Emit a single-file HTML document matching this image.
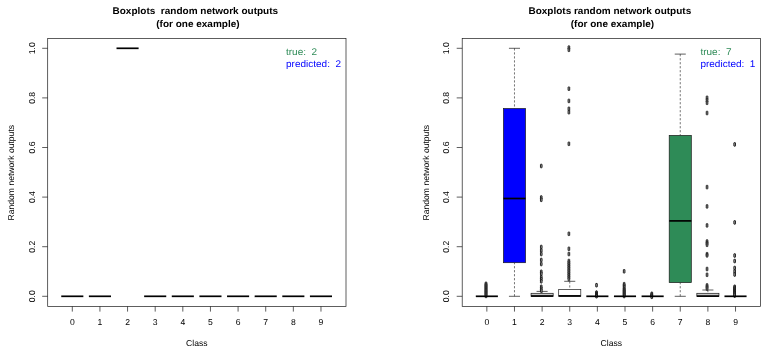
<!DOCTYPE html>
<html><head><meta charset="utf-8"><title>Boxplots random network outputs</title>
<style>
html,body{margin:0;padding:0;background:#fff}
svg{display:block}
text{font-family:"Liberation Sans",Arial,Helvetica,sans-serif;fill:#000;text-rendering:geometricPrecision}
.t{font-size:10px;font-weight:bold;text-anchor:middle}
.a{font-size:8.6px;text-anchor:middle}
.l{font-size:10px}
.ln{stroke:#1a1a1a;stroke-width:0.7;fill:none}
.md{stroke:#000;stroke-width:1.7;fill:none}
.wh{stroke:#1a1a1a;stroke-width:.6;stroke-dasharray:2.2 1.8;fill:none}
.o{fill:#aaa;stroke:#111;stroke-width:.9}
</style></head>
<body>
<svg width="767" height="352" viewBox="0 0 767 352">
<rect width="767" height="352" fill="#fff"/>
<g>
<text class="t" transform="translate(195.30 14.1) scale(1 .97)" xml:space="preserve">Boxplots  random network outputs</text>
<text class="t" transform="translate(197.90 26.6) scale(1 .97)">(for one example)</text>
<rect class="ln" x="47.70" y="38.40" width="298.30" height="268.00"/>
<line class="ln" x1="42.20" y1="296.30" x2="47.70" y2="296.30"/>
<text class="a" transform="translate(34.80 296.30) rotate(-90)">0.0</text>
<line class="ln" x1="42.20" y1="246.70" x2="47.70" y2="246.70"/>
<text class="a" transform="translate(34.80 246.70) rotate(-90)">0.2</text>
<line class="ln" x1="42.20" y1="197.10" x2="47.70" y2="197.10"/>
<text class="a" transform="translate(34.80 197.10) rotate(-90)">0.4</text>
<line class="ln" x1="42.20" y1="147.50" x2="47.70" y2="147.50"/>
<text class="a" transform="translate(34.80 147.50) rotate(-90)">0.6</text>
<line class="ln" x1="42.20" y1="97.90" x2="47.70" y2="97.90"/>
<text class="a" transform="translate(34.80 97.90) rotate(-90)">0.8</text>
<line class="ln" x1="42.20" y1="48.30" x2="47.70" y2="48.30"/>
<text class="a" transform="translate(34.80 48.30) rotate(-90)">1.0</text>
<text class="a" transform="translate(14.10 172.70) rotate(-90)">Random network outputs</text>
<line class="ln" x1="72.30" y1="306.40" x2="72.30" y2="311.60"/>
<text class="a" x="72.30" y="324.6">0</text>
<line class="ln" x1="99.93" y1="306.40" x2="99.93" y2="311.60"/>
<text class="a" x="99.93" y="324.6">1</text>
<line class="ln" x1="127.56" y1="306.40" x2="127.56" y2="311.60"/>
<text class="a" x="127.56" y="324.6">2</text>
<line class="ln" x1="155.19" y1="306.40" x2="155.19" y2="311.60"/>
<text class="a" x="155.19" y="324.6">3</text>
<line class="ln" x1="182.82" y1="306.40" x2="182.82" y2="311.60"/>
<text class="a" x="182.82" y="324.6">4</text>
<line class="ln" x1="210.45" y1="306.40" x2="210.45" y2="311.60"/>
<text class="a" x="210.45" y="324.6">5</text>
<line class="ln" x1="238.08" y1="306.40" x2="238.08" y2="311.60"/>
<text class="a" x="238.08" y="324.6">6</text>
<line class="ln" x1="265.71" y1="306.40" x2="265.71" y2="311.60"/>
<text class="a" x="265.71" y="324.6">7</text>
<line class="ln" x1="293.34" y1="306.40" x2="293.34" y2="311.60"/>
<text class="a" x="293.34" y="324.6">8</text>
<line class="ln" x1="320.97" y1="306.40" x2="320.97" y2="311.60"/>
<text class="a" x="320.97" y="324.6">9</text>
<text class="a" x="196.85" y="345.5">Class</text>
<text class="l" transform="translate(286.00 54.5) scale(1 .97)" style="fill:#2e8b57" xml:space="preserve">true:  2</text>
<text class="l" transform="translate(286.00 66.75) scale(1 .97)" style="fill:#0000ff" xml:space="preserve">predicted:  2</text>
<line class="md" x1="61.25" y1="296.30" x2="83.35" y2="296.30"/>
<line class="md" x1="88.88" y1="296.30" x2="110.98" y2="296.30"/>
<line class="md" x1="116.51" y1="48.30" x2="138.61" y2="48.30"/>
<line class="md" x1="144.14" y1="296.30" x2="166.24" y2="296.30"/>
<line class="md" x1="171.77" y1="296.30" x2="193.87" y2="296.30"/>
<line class="md" x1="199.40" y1="296.30" x2="221.50" y2="296.30"/>
<line class="md" x1="227.03" y1="296.30" x2="249.13" y2="296.30"/>
<line class="md" x1="254.66" y1="296.30" x2="276.76" y2="296.30"/>
<line class="md" x1="282.29" y1="296.30" x2="304.39" y2="296.30"/>
<line class="md" x1="309.92" y1="296.30" x2="332.02" y2="296.30"/>
</g>
<g>
<text class="t" transform="translate(609.80 14.1) scale(1 .97)" xml:space="preserve">Boxplots random network outputs</text>
<text class="t" transform="translate(612.40 26.6) scale(1 .97)">(for one example)</text>
<rect class="ln" x="462.20" y="38.40" width="298.30" height="268.00"/>
<line class="ln" x1="456.70" y1="296.30" x2="462.20" y2="296.30"/>
<text class="a" transform="translate(449.30 296.30) rotate(-90)">0.0</text>
<line class="ln" x1="456.70" y1="246.70" x2="462.20" y2="246.70"/>
<text class="a" transform="translate(449.30 246.70) rotate(-90)">0.2</text>
<line class="ln" x1="456.70" y1="197.10" x2="462.20" y2="197.10"/>
<text class="a" transform="translate(449.30 197.10) rotate(-90)">0.4</text>
<line class="ln" x1="456.70" y1="147.50" x2="462.20" y2="147.50"/>
<text class="a" transform="translate(449.30 147.50) rotate(-90)">0.6</text>
<line class="ln" x1="456.70" y1="97.90" x2="462.20" y2="97.90"/>
<text class="a" transform="translate(449.30 97.90) rotate(-90)">0.8</text>
<line class="ln" x1="456.70" y1="48.30" x2="462.20" y2="48.30"/>
<text class="a" transform="translate(449.30 48.30) rotate(-90)">1.0</text>
<text class="a" transform="translate(428.60 172.70) rotate(-90)">Random network outputs</text>
<line class="ln" x1="486.85" y1="306.40" x2="486.85" y2="311.60"/>
<text class="a" x="486.85" y="324.6">0</text>
<line class="ln" x1="514.48" y1="306.40" x2="514.48" y2="311.60"/>
<text class="a" x="514.48" y="324.6">1</text>
<line class="ln" x1="542.11" y1="306.40" x2="542.11" y2="311.60"/>
<text class="a" x="542.11" y="324.6">2</text>
<line class="ln" x1="569.74" y1="306.40" x2="569.74" y2="311.60"/>
<text class="a" x="569.74" y="324.6">3</text>
<line class="ln" x1="597.37" y1="306.40" x2="597.37" y2="311.60"/>
<text class="a" x="597.37" y="324.6">4</text>
<line class="ln" x1="625.00" y1="306.40" x2="625.00" y2="311.60"/>
<text class="a" x="625.00" y="324.6">5</text>
<line class="ln" x1="652.63" y1="306.40" x2="652.63" y2="311.60"/>
<text class="a" x="652.63" y="324.6">6</text>
<line class="ln" x1="680.26" y1="306.40" x2="680.26" y2="311.60"/>
<text class="a" x="680.26" y="324.6">7</text>
<line class="ln" x1="707.89" y1="306.40" x2="707.89" y2="311.60"/>
<text class="a" x="707.89" y="324.6">8</text>
<line class="ln" x1="735.52" y1="306.40" x2="735.52" y2="311.60"/>
<text class="a" x="735.52" y="324.6">9</text>
<text class="a" x="611.35" y="345.5">Class</text>
<text class="l" transform="translate(700.40 54.5) scale(1 .97)" style="fill:#2e8b57" xml:space="preserve">true:  7</text>
<text class="l" transform="translate(700.40 66.75) scale(1 .97)" style="fill:#0000ff" xml:space="preserve">predicted:  1</text>
<rect class="o" x="485.20" y="282.05" width="1.6" height="3.5" rx=".3"/>
<rect class="o" x="485.20" y="283.15" width="1.6" height="3.5" rx=".3"/>
<rect class="o" x="485.20" y="284.25" width="1.6" height="3.5" rx=".3"/>
<rect class="o" x="485.20" y="285.35" width="1.6" height="3.5" rx=".3"/>
<rect class="o" x="485.20" y="286.45" width="1.6" height="3.5" rx=".3"/>
<rect class="o" x="485.20" y="287.55" width="1.6" height="3.5" rx=".3"/>
<rect class="o" x="485.20" y="288.65" width="1.6" height="3.5" rx=".3"/>
<rect class="o" x="485.20" y="289.75" width="1.6" height="3.5" rx=".3"/>
<rect class="o" x="485.20" y="290.85" width="1.6" height="3.5" rx=".3"/>
<rect class="o" x="485.20" y="291.95" width="1.6" height="3.5" rx=".3"/>
<rect class="o" x="485.20" y="293.05" width="1.6" height="3.5" rx=".3"/>
<rect class="o" x="485.20" y="294.15" width="1.6" height="3.5" rx=".3"/>
<line class="md" x1="475.80" y1="296.30" x2="497.90" y2="296.30"/>
<line class="wh" x1="514.48" y1="48.30" x2="514.48" y2="108.50"/>
<line class="ln" x1="508.95" y1="48.30" x2="520.01" y2="48.30"/>
<line class="wh" x1="514.48" y1="296.30" x2="514.48" y2="262.70"/>
<line class="ln" x1="508.95" y1="296.30" x2="520.01" y2="296.30"/>
<rect class="ln" style="fill:#0000ff" x="503.43" y="108.50" width="22.10" height="154.20"/>
<line class="md" x1="503.43" y1="198.50" x2="525.53" y2="198.50"/>
<line class="wh" x1="542.11" y1="291.40" x2="542.11" y2="293.30"/>
<line class="ln" x1="536.58" y1="291.40" x2="547.64" y2="291.40"/>
<rect class="ln" style="fill:#c8c8c8" x="531.06" y="293.30" width="22.10" height="3.00"/>
<rect class="o" x="540.46" y="164.25" width="1.6" height="3.5" rx=".3"/>
<rect class="o" x="540.46" y="195.75" width="1.6" height="3.5" rx=".3"/>
<rect class="o" x="540.46" y="198.05" width="1.6" height="3.5" rx=".3"/>
<rect class="o" x="540.46" y="245.25" width="1.6" height="3.5" rx=".3"/>
<rect class="o" x="540.46" y="248.75" width="1.6" height="3.5" rx=".3"/>
<rect class="o" x="540.46" y="252.25" width="1.6" height="3.5" rx=".3"/>
<rect class="o" x="540.46" y="258.25" width="1.6" height="3.5" rx=".3"/>
<rect class="o" x="540.46" y="262.25" width="1.6" height="3.5" rx=".3"/>
<rect class="o" x="540.46" y="270.05" width="1.6" height="3.5" rx=".3"/>
<rect class="o" x="540.46" y="272.05" width="1.6" height="3.5" rx=".3"/>
<rect class="o" x="540.46" y="275.45" width="1.6" height="3.5" rx=".3"/>
<rect class="o" x="540.46" y="277.45" width="1.6" height="3.5" rx=".3"/>
<rect class="o" x="540.46" y="279.55" width="1.6" height="3.5" rx=".3"/>
<rect class="o" x="540.46" y="285.05" width="1.6" height="3.5" rx=".3"/>
<rect class="o" x="540.46" y="287.05" width="1.6" height="3.5" rx=".3"/>
<rect class="o" x="540.46" y="288.85" width="1.6" height="3.5" rx=".3"/>
<line class="md" x1="531.06" y1="296.00" x2="553.16" y2="296.00"/>
<line class="wh" x1="569.74" y1="281.30" x2="569.74" y2="289.50"/>
<line class="ln" x1="564.21" y1="281.30" x2="575.27" y2="281.30"/>
<rect class="ln" style="fill:#fff" x="558.69" y="289.50" width="22.10" height="6.80"/>
<rect class="o" x="568.09" y="45.85" width="1.6" height="3.5" rx=".3"/>
<rect class="o" x="568.09" y="48.05" width="1.6" height="3.5" rx=".3"/>
<rect class="o" x="568.09" y="86.95" width="1.6" height="3.5" rx=".3"/>
<rect class="o" x="568.09" y="99.15" width="1.6" height="3.5" rx=".3"/>
<rect class="o" x="568.09" y="107.05" width="1.6" height="3.5" rx=".3"/>
<rect class="o" x="568.09" y="110.45" width="1.6" height="3.5" rx=".3"/>
<rect class="o" x="568.09" y="142.05" width="1.6" height="3.5" rx=".3"/>
<rect class="o" x="568.09" y="232.05" width="1.6" height="3.5" rx=".3"/>
<rect class="o" x="568.09" y="247.05" width="1.6" height="3.5" rx=".3"/>
<rect class="o" x="568.09" y="252.25" width="1.6" height="3.5" rx=".3"/>
<rect class="o" x="568.09" y="259.25" width="1.6" height="3.5" rx=".3"/>
<rect class="o" x="568.09" y="261.05" width="1.6" height="3.5" rx=".3"/>
<rect class="o" x="568.09" y="262.85" width="1.6" height="3.5" rx=".3"/>
<rect class="o" x="568.09" y="264.65" width="1.6" height="3.5" rx=".3"/>
<rect class="o" x="568.09" y="266.45" width="1.6" height="3.5" rx=".3"/>
<rect class="o" x="568.09" y="268.25" width="1.6" height="3.5" rx=".3"/>
<rect class="o" x="568.09" y="270.05" width="1.6" height="3.5" rx=".3"/>
<rect class="o" x="568.09" y="271.85" width="1.6" height="3.5" rx=".3"/>
<rect class="o" x="568.09" y="273.65" width="1.6" height="3.5" rx=".3"/>
<rect class="o" x="568.09" y="275.45" width="1.6" height="3.5" rx=".3"/>
<rect class="o" x="568.09" y="277.25" width="1.6" height="3.5" rx=".3"/>
<line class="md" x1="558.69" y1="295.90" x2="580.79" y2="295.90"/>
<rect class="o" x="595.72" y="283.45" width="1.6" height="3.5" rx=".3"/>
<rect class="o" x="595.72" y="290.85" width="1.6" height="3.5" rx=".3"/>
<rect class="o" x="595.72" y="291.75" width="1.6" height="3.5" rx=".3"/>
<rect class="o" x="595.72" y="292.65" width="1.6" height="3.5" rx=".3"/>
<rect class="o" x="595.72" y="293.55" width="1.6" height="3.5" rx=".3"/>
<rect class="o" x="595.72" y="294.45" width="1.6" height="3.5" rx=".3"/>
<line class="md" x1="586.32" y1="296.30" x2="608.42" y2="296.30"/>
<rect class="o" x="623.35" y="269.55" width="1.6" height="3.5" rx=".3"/>
<rect class="o" x="623.35" y="282.45" width="1.6" height="3.5" rx=".3"/>
<rect class="o" x="623.35" y="283.95" width="1.6" height="3.5" rx=".3"/>
<rect class="o" x="623.35" y="285.45" width="1.6" height="3.5" rx=".3"/>
<rect class="o" x="623.35" y="287.25" width="1.6" height="3.5" rx=".3"/>
<rect class="o" x="623.35" y="288.25" width="1.6" height="3.5" rx=".3"/>
<rect class="o" x="623.35" y="289.25" width="1.6" height="3.5" rx=".3"/>
<rect class="o" x="623.35" y="290.25" width="1.6" height="3.5" rx=".3"/>
<rect class="o" x="623.35" y="291.25" width="1.6" height="3.5" rx=".3"/>
<rect class="o" x="623.35" y="292.25" width="1.6" height="3.5" rx=".3"/>
<rect class="o" x="623.35" y="293.25" width="1.6" height="3.5" rx=".3"/>
<rect class="o" x="623.35" y="294.25" width="1.6" height="3.5" rx=".3"/>
<line class="md" x1="613.95" y1="296.30" x2="636.05" y2="296.30"/>
<rect class="o" x="650.98" y="292.05" width="1.6" height="3.5" rx=".3"/>
<rect class="o" x="650.98" y="293.05" width="1.6" height="3.5" rx=".3"/>
<rect class="o" x="650.98" y="294.05" width="1.6" height="3.5" rx=".3"/>
<rect class="o" x="650.98" y="295.05" width="1.6" height="3.5" rx=".3"/>
<line class="md" x1="641.58" y1="296.30" x2="663.68" y2="296.30"/>
<line class="wh" x1="680.26" y1="54.10" x2="680.26" y2="135.40"/>
<line class="ln" x1="674.73" y1="54.10" x2="685.79" y2="54.10"/>
<line class="wh" x1="680.26" y1="296.30" x2="680.26" y2="282.60"/>
<line class="ln" x1="674.73" y1="296.30" x2="685.79" y2="296.30"/>
<rect class="ln" style="fill:#2e8b57" x="669.21" y="135.40" width="22.10" height="147.20"/>
<line class="md" x1="669.21" y1="220.90" x2="691.31" y2="220.90"/>
<line class="wh" x1="707.89" y1="290.00" x2="707.89" y2="293.30"/>
<line class="ln" x1="702.36" y1="290.00" x2="713.42" y2="290.00"/>
<rect class="ln" style="fill:#c8c8c8" x="696.84" y="293.30" width="22.10" height="3.00"/>
<rect class="o" x="706.24" y="96.05" width="1.6" height="3.5" rx=".3"/>
<rect class="o" x="706.24" y="98.55" width="1.6" height="3.5" rx=".3"/>
<rect class="o" x="706.24" y="101.05" width="1.6" height="3.5" rx=".3"/>
<rect class="o" x="706.24" y="111.25" width="1.6" height="3.5" rx=".3"/>
<rect class="o" x="706.24" y="185.35" width="1.6" height="3.5" rx=".3"/>
<rect class="o" x="706.24" y="204.65" width="1.6" height="3.5" rx=".3"/>
<rect class="o" x="706.24" y="223.65" width="1.6" height="3.5" rx=".3"/>
<rect class="o" x="706.24" y="239.75" width="1.6" height="3.5" rx=".3"/>
<rect class="o" x="706.24" y="241.45" width="1.6" height="3.5" rx=".3"/>
<rect class="o" x="706.24" y="243.05" width="1.6" height="3.5" rx=".3"/>
<rect class="o" x="706.24" y="252.45" width="1.6" height="3.5" rx=".3"/>
<rect class="o" x="706.24" y="253.65" width="1.6" height="3.5" rx=".3"/>
<rect class="o" x="706.24" y="267.25" width="1.6" height="3.5" rx=".3"/>
<rect class="o" x="706.24" y="273.05" width="1.6" height="3.5" rx=".3"/>
<rect class="o" x="706.24" y="283.65" width="1.6" height="3.5" rx=".3"/>
<rect class="o" x="706.24" y="285.25" width="1.6" height="3.5" rx=".3"/>
<rect class="o" x="706.24" y="286.85" width="1.6" height="3.5" rx=".3"/>
<line class="md" x1="696.84" y1="296.10" x2="718.94" y2="296.10"/>
<rect class="o" x="733.87" y="142.65" width="1.6" height="3.5" rx=".3"/>
<rect class="o" x="733.87" y="220.65" width="1.6" height="3.5" rx=".3"/>
<rect class="o" x="733.87" y="253.75" width="1.6" height="3.5" rx=".3"/>
<rect class="o" x="733.87" y="259.25" width="1.6" height="3.5" rx=".3"/>
<rect class="o" x="733.87" y="266.25" width="1.6" height="3.5" rx=".3"/>
<rect class="o" x="733.87" y="269.75" width="1.6" height="3.5" rx=".3"/>
<rect class="o" x="733.87" y="272.75" width="1.6" height="3.5" rx=".3"/>
<rect class="o" x="733.87" y="285.05" width="1.6" height="3.5" rx=".3"/>
<rect class="o" x="733.87" y="286.15" width="1.6" height="3.5" rx=".3"/>
<rect class="o" x="733.87" y="287.25" width="1.6" height="3.5" rx=".3"/>
<rect class="o" x="733.87" y="288.35" width="1.6" height="3.5" rx=".3"/>
<rect class="o" x="733.87" y="289.45" width="1.6" height="3.5" rx=".3"/>
<rect class="o" x="733.87" y="290.55" width="1.6" height="3.5" rx=".3"/>
<rect class="o" x="733.87" y="291.65" width="1.6" height="3.5" rx=".3"/>
<rect class="o" x="733.87" y="292.75" width="1.6" height="3.5" rx=".3"/>
<rect class="o" x="733.87" y="293.85" width="1.6" height="3.5" rx=".3"/>
<line class="md" x1="724.47" y1="296.30" x2="746.57" y2="296.30"/>
</g>
</svg>
</body></html>
